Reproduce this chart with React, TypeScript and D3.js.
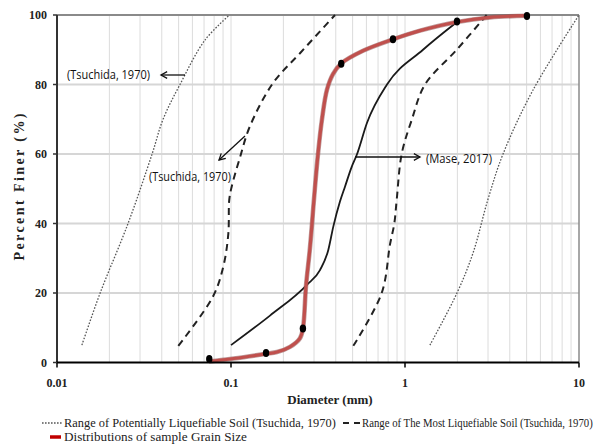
import React, { useEffect, useRef } from 'react';
import * as d3 from 'd3';

type Pt = { d: number; p: number };

// Range of potentially liquefiable soil (Tsuchida, 1970) - dotted
const potentialLow: Pt[] = [
  { d: 0.0139, p: 5 }, { d: 0.0177, p: 20 }, { d: 0.0256, p: 40 }, { d: 0.0352, p: 60 },
  { d: 0.0407, p: 70 }, { d: 0.0509, p: 80 }, { d: 0.0709, p: 92.8 }, { d: 0.098, p: 100 },
];
const potentialHigh: Pt[] = [
  { d: 1.39, p: 5 }, { d: 1.99, p: 20 }, { d: 2.46, p: 31.5 }, { d: 3.0, p: 47 },
  { d: 3.66, p: 60 }, { d: 5.44, p: 78.4 }, { d: 10, p: 100 },
];

// Range of the most liquefiable soil (Tsuchida, 1970) - dashed
const mostLow: Pt[] = [
  { d: 0.0498, p: 4.8 }, { d: 0.0788, p: 19 }, { d: 0.0903, p: 27.6 }, { d: 0.0965, p: 37 },
  { d: 0.0977, p: 46.8 }, { d: 0.1009, p: 50.6 }, { d: 0.1126, p: 59 }, { d: 0.1285, p: 68 },
  { d: 0.1743, p: 80.4 }, { d: 0.2492, p: 89 }, { d: 0.396, p: 100 },
];
const mostHigh: Pt[] = [
  { d: 0.5045, p: 4.8 }, { d: 0.7346, p: 20 }, { d: 0.82, p: 34 }, { d: 0.868, p: 40 },
  { d: 0.896, p: 46.8 }, { d: 0.957, p: 60 }, { d: 1.093, p: 69.8 }, { d: 1.303, p: 80 },
  { d: 1.982, p: 90 }, { d: 2.948, p: 100 },
];

// Mase, 2017 - solid black
const mase: Pt[] = [
  { d: 0.1, p: 5 }, { d: 0.1675, p: 13.5 }, { d: 0.2723, p: 22.3 },
  { d: 0.3246, p: 26.6 }, { d: 0.3624, p: 32.4 }, { d: 0.3872, p: 39.1 }, { d: 0.4229, p: 46.3 },
  { d: 0.4519, p: 50.6 }, { d: 0.494, p: 56.3 }, { d: 0.5277, p: 59.7 }, { d: 0.605, p: 69 },
  { d: 0.788, p: 80 }, { d: 1.269, p: 90 }, { d: 1.99, p: 98 },
];

// Sample grain size distribution - fitted red curve and measured points
const sampleCurve: Pt[] = [
  { d: 0.0747, p: 0.3 }, { d: 0.0987, p: 1 }, { d: 0.1285, p: 1.8 }, { d: 0.1589, p: 2.5 },
  { d: 0.1838, p: 3 }, { d: 0.2183, p: 4.5 }, { d: 0.2492, p: 7 }, { d: 0.2594, p: 10 },
  { d: 0.2698, p: 22 }, { d: 0.2844, p: 33 }, { d: 0.2999, p: 47 }, { d: 0.3162, p: 60 },
  { d: 0.3334, p: 70 }, { d: 0.3561, p: 78.5 }, { d: 0.3856, p: 83 }, { d: 0.4286, p: 86 },
  { d: 0.5736, p: 89.7 }, { d: 0.853, p: 93 }, { d: 1.22, p: 95.5 }, { d: 1.99, p: 98 },
  { d: 3.08, p: 99.3 }, { d: 5.02, p: 99.8 },
];
const samplePoints: Pt[] = [
  { d: 0.075, p: 1 }, { d: 0.159, p: 2.7 }, { d: 0.259, p: 9.8 }, { d: 0.43, p: 86 },
  { d: 0.853, p: 93 }, { d: 1.99, p: 98.1 }, { d: 5.02, p: 99.7 },
];

const xTicks = [0.01, 0.1, 1, 10];
const yTicks = [0, 20, 40, 60, 80, 100];

export default function App() {
  const svgRef = useRef<SVGSVGElement>(null);

  useEffect(() => {
    if (!svgRef.current) return;
    const svg = d3.select(svgRef.current);
    svg.selectAll('*').remove();

    const x = d3.scaleLog().domain([0.01, 10]).range([57, 579]);
    const y = d3.scaleLinear().domain([0, 100]).range([362.5, 15]);

    const serif = '"Liberation Serif", "Times New Roman", serif';
    const sans = '"Open Sans", "Noto Sans", sans-serif';

    // squeeze a start-anchored text horizontally to a given width
    const fit = (t: d3.Selection<SVGTextElement, unknown, null, undefined>, tx: number, w: number) => {
      const len = (t.node() as SVGTextElement).getComputedTextLength();
      if (len > 0) t.attr('transform', `translate(${tx},0) scale(${w / len},1) translate(${-tx},0)`);
    };

    // vertical minor grid
    const minor: number[] = [];
    [0.01, 0.1, 1].forEach(b => {
      for (let k = 1; k <= 9; k++) minor.push(b * k);
    });
    svg.append('g').selectAll('line').data(minor.filter(v => v > 0.01)).enter().append('line')
      .attr('x1', d => x(d)).attr('x2', d => x(d))
      .attr('y1', y(100)).attr('y2', y(0))
      .attr('stroke', '#dcdcdc').attr('stroke-width', 1);

    // horizontal grid
    svg.append('g').selectAll('line').data(yTicks.filter(v => v > 0 && v < 100)).enter().append('line')
      .attr('x1', x(0.01)).attr('x2', x(10))
      .attr('y1', d => y(d)).attr('y2', d => y(d))
      .attr('stroke', '#d6d6d6').attr('stroke-width', 2);

    // frame
    svg.append('line').attr('x1', x(0.01)).attr('x2', x(10)).attr('y1', y(100)).attr('y2', y(100))
      .attr('stroke', '#8a8a8a').attr('stroke-width', 2);
    svg.append('line').attr('x1', x(10)).attr('x2', x(10)).attr('y1', y(100)).attr('y2', y(0))
      .attr('stroke', '#8a8a8a').attr('stroke-width', 1.5);

    const line = d3.line<Pt>()
      .x(d => x(d.d)).y(d => y(d.p))
      .curve(d3.curveCatmullRom.alpha(0.5));
    const smooth = d3.line<Pt>()
      .x(d => x(d.d)).y(d => y(d.p))
      .curve(d3.curveMonotoneX);

    // dotted
    [potentialLow, potentialHigh].forEach(s => {
      svg.append('path').datum(s).attr('d', line).attr('fill', 'none')
        .attr('stroke', '#555').attr('stroke-width', 1.3).attr('stroke-dasharray', '1.6,1.6');
    });
    // dashed
    [mostLow, mostHigh].forEach(s => {
      svg.append('path').datum(s).attr('d', line).attr('fill', 'none')
        .attr('stroke', '#222').attr('stroke-width', 2).attr('stroke-dasharray', '7,5');
    });
    // mase
    svg.append('path').datum(mase).attr('d', smooth).attr('fill', 'none')
      .attr('stroke', '#1a1a1a').attr('stroke-width', 1.8);

    // sample curve
    svg.append('path').datum(sampleCurve).attr('d', line).attr('fill', 'none')
      .attr('stroke', '#8a4a4a').attr('stroke-width', 4.6).attr('stroke-opacity', 0.55);
    svg.append('path').datum(sampleCurve).attr('d', line).attr('fill', 'none')
      .attr('stroke', '#c0504d').attr('stroke-width', 3.2);

    svg.append('g').selectAll('ellipse').data(samplePoints).enter().append('ellipse')
      .attr('cx', d => x(d.d)).attr('cy', d => y(d.p))
      .attr('rx', 3.2).attr('ry', 4).attr('fill', '#000');

    // axes
    svg.append('line').attr('x1', x(0.01)).attr('x2', x(0.01)).attr('y1', y(100)).attr('y2', y(0))
      .attr('stroke', '#333').attr('stroke-width', 2);
    svg.append('line').attr('x1', x(0.01) - 1).attr('x2', x(10)).attr('y1', y(0)).attr('y2', y(0))
      .attr('stroke', '#000').attr('stroke-width', 2);

    svg.append('g').selectAll('line').data(xTicks).enter().append('line')
      .attr('x1', d => x(d)).attr('x2', d => x(d))
      .attr('y1', y(0)).attr('y2', y(0) + 5)
      .attr('stroke', '#000').attr('stroke-width', 1.5);
    svg.append('g').selectAll('line').data(yTicks).enter().append('line')
      .attr('x1', x(0.01) - 4).attr('x2', x(0.01))
      .attr('y1', d => y(d)).attr('y2', d => y(d))
      .attr('stroke', '#333').attr('stroke-width', 1.5);

    svg.append('g').selectAll('text').data(xTicks).enter().append('text')
      .attr('x', d => x(d)).attr('y', 387)
      .attr('text-anchor', 'middle')
      .attr('font-family', serif).attr('font-weight', 'bold').attr('font-size', 12)
      .attr('fill', '#222')
      .text(d => String(d));
    svg.append('g').selectAll('text').data(yTicks).enter().append('text')
      .attr('x', 47).attr('y', d => y(d) + 4)
      .attr('text-anchor', 'end')
      .attr('font-family', serif).attr('font-weight', 'bold').attr('font-size', 12)
      .attr('fill', '#222')
      .text(d => String(d));

    svg.append('text')
      .attr('transform', 'translate(24,187) rotate(-90)')
      .attr('text-anchor', 'middle')
      .attr('font-family', serif).attr('font-weight', 'bold').attr('font-size', 14)
      .attr('textLength', 147).attr('lengthAdjust', 'spacing')
      .attr('fill', '#222')
      .text('Percent Finer (%)');
    svg.append('text')
      .attr('x', 330).attr('y', 404)
      .attr('text-anchor', 'middle')
      .attr('font-family', serif).attr('font-weight', 'bold').attr('font-size', 13)
      .attr('fill', '#222')
      .text('Diameter (mm)');

    // annotations
    const arrow = (x1: number, y1: number, x2: number, y2: number) => {
      const a = Math.atan2(y2 - y1, x2 - x1);
      const h = 7;
      const g = svg.append('g').attr('stroke', '#111').attr('stroke-width', 1.3).attr('fill', 'none');
      g.append('line').attr('x1', x1).attr('y1', y1).attr('x2', x2).attr('y2', y2);
      g.append('path').attr('d',
        `M${x2 - h * Math.cos(a - 0.5)},${y2 - h * Math.sin(a - 0.5)}L${x2},${y2}L${x2 - h * Math.cos(a + 0.5)},${y2 - h * Math.sin(a + 0.5)}`);
    };
    const note = (tx: number, ty: number, s: string, w: number) => {
      const t = svg.append('text').attr('x', tx).attr('y', ty)
        .attr('font-family', sans).attr('font-size', 12.5)
        .attr('fill', '#111').text(s);
      fit(t, tx, w);
    };
    note(67, 79.5, '(Tsuchida, 1970)', 83);
    arrow(185, 75, 161, 75);
    note(149, 181.5, '(Tsuchida, 1970)', 82);
    arrow(245, 136, 219, 160);
    note(426, 163.5, '(Mase, 2017)', 66);
    arrow(355, 157, 420, 157);

    // legend
    const legendText = (tx: number, ty: number, s: string, w: number) => {
      const t = svg.append('text').attr('x', tx).attr('y', ty)
        .attr('font-family', serif).attr('font-size', 13).attr('fill', '#222')
        .text(s);
      fit(t, tx, w);
    };
    svg.append('line').attr('x1', 42).attr('x2', 62).attr('y1', 423).attr('y2', 423)
      .attr('stroke', '#555').attr('stroke-width', 1.3).attr('stroke-dasharray', '1.6,1.4');
    legendText(64, 427, 'Range of Potentially Liquefiable Soil (Tsuchida, 1970)', 272);
    svg.append('line').attr('x1', 343).attr('x2', 360).attr('y1', 423).attr('y2', 423)
      .attr('stroke', '#222').attr('stroke-width', 2).attr('stroke-dasharray', '6,5');
    legendText(362, 427, 'Range of The Most Liquefiable Soil (Tsuchida, 1970)', 231);
    svg.append('line').attr('x1', 50).attr('x2', 61).attr('y1', 437).attr('y2', 437)
      .attr('stroke', '#c00000').attr('stroke-width', 3.5);
    legendText(64, 441, 'Distributions of sample Grain Size', 183);
  }, []);

  return (
    <svg ref={svgRef} width={603} height={448}
      style={{ position: 'absolute', left: 0, top: 0, background: '#fff' }} />
  );
}
